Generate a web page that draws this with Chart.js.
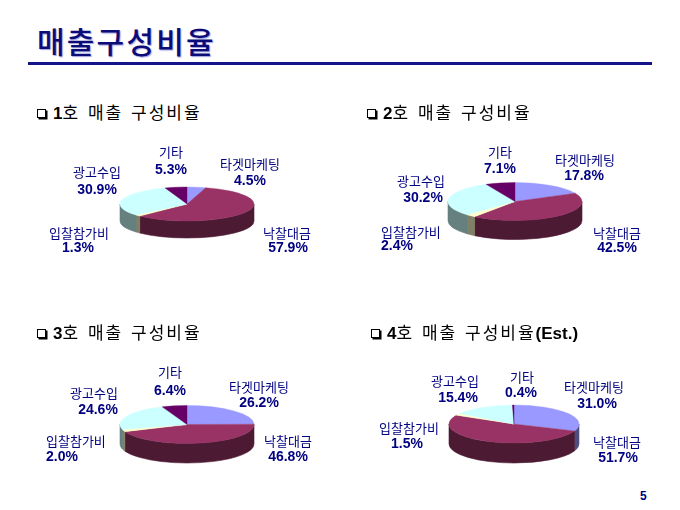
<!DOCTYPE html>
<html><head><meta charset="utf-8">
<script src="https://cdn.jsdelivr.net/npm/chart.js@4/dist/chart.umd.min.js"></script>
<style>
html,body{margin:0;padding:0;background:#fff;}
#page{position:relative;width:680px;height:510px;overflow:hidden;background:#fff;}
#page canvas{position:absolute;left:0;top:0;}
.title{position:absolute;left:37px;top:20px;font:500 30px "Noto Sans CJK KR";letter-spacing:2.2px;color:#0c0c78;text-shadow:1px 1px 1px rgba(120,120,210,0.7);white-space:nowrap;line-height:40px;}
.rule{position:absolute;left:28px;top:62px;width:624px;height:3px;background:#14148a;}
.sub{position:absolute;font:400 17px "Noto Sans CJK KR";color:#000;white-space:pre;letter-spacing:2px;word-spacing:2px;line-height:20px;}
.sub b{font:700 17px "Liberation Sans",Arial;letter-spacing:0;}
.box{display:inline-block;width:7px;height:7px;border:1px solid #000;box-shadow:1.5px 1.5px 0 #000;margin-right:7px;vertical-align:1px;}
.pg{position:absolute;left:640px;top:489px;font:700 12px "Liberation Sans",Arial;color:#000080;}
</style></head>
<body><div id="page">
<div class="title">매출구성비율</div>
<div class="rule"></div>
<div class="pg">5</div>
</div>
<script>
// ---- data ----
const CATEGORIES = ['타겟마케팅', '낙찰대금', '입찰참가비', '광고수입', '기타'];
const SHARE_1 = [4.5, 57.9, 1.3, 30.9, 5.3];
const SHARE_2 = [17.8, 42.5, 2.4, 30.2, 7.1];
const SHARE_3 = [26.2, 46.8, 2.0, 24.6, 6.4];
const SHARE_4 = [31.0, 51.7, 1.5, 15.4, 0.4];
const CHART_NUMBERS = ['1', '2', '3', '4'];
const CHART_TITLES = ['호 매출 구성비율', '호 매출 구성비율', '호 매출 구성비율', '호 매출 구성비율'];
const CHART_SUFFIX = ['', '', '', '(Est.)'];
const SERIES = [SHARE_1, SHARE_2, SHARE_3, SHARE_4];

// ---- style / layout ----
const COLORS = ['#9999FF', '#993366', '#FFFFCC', '#CCFFFF', '#660066'];
const W = 680, H = 510;
const LAYOUT = [
  {cx:187, cy:204, rx:67, ry:17, depth:17, sub:[37,102],
   lab:[[250,164,250,181,'center'],[287,233,288,248,'center'],[79,233,78,248,'center'],[97,172,97,190,'center'],[171,152,171,170,'center']]},
  {cx:515, cy:201.5, rx:67, ry:19, depth:19, sub:[367,102],
   lab:[[585,160,584,176,'center'],[617,233,617,248,'center'],[381,232,381,246,'left'],[421,181,423,198,'center'],[500,152,500,169,'center']]},
  {cx:187, cy:424.5, rx:67, ry:19, depth:19.5, sub:[37,322],
   lab:[[259,387,259,403,'center'],[288,441,288,457,'center'],[46,441,46,457,'left'],[94,393,98,410,'center'],[170,372,170,391,'center']]},
  {cx:514, cy:424, rx:65, ry:19, depth:20, sub:[371,322],
   lab:[[594,387,597,404,'center'],[617,442,618,458,'center'],[409,428,407,444,'center'],[455,381,458,398,'center'],[522,377,521,393,'center']]}
];

function shade(hex, f){
  const n = parseInt(hex.slice(1),16);
  const r = Math.round(((n>>16)&255)*f), g = Math.round(((n>>8)&255)*f), b = Math.round((n&255)*f);
  return 'rgb('+r+','+g+','+b+')';
}

const pie3d = {
  id:'pie3d',
  beforeDatasetsDraw(chart, args, opts){
    const meta = chart.getDatasetMeta(0);
    const ctx = chart.ctx;
    const a = meta.data[0];
    const cx = a.x, cy = a.y, rx = a.outerRadius, ry = opts.ry, d = opts.depth;
    meta.data.forEach((arc, i) => {
      const a0 = Math.max(arc.startAngle, 0), a1 = Math.min(arc.endAngle, Math.PI);
      if (a1 <= a0) return;
      ctx.beginPath();
      ctx.ellipse(cx, cy, rx, ry, 0, a0, a1, false);
      ctx.ellipse(cx, cy + d, rx, ry, 0, a1, a0, true);
      ctx.closePath();
      const c = shade(COLORS[i], 0.5);
      ctx.fillStyle = c; ctx.strokeStyle = c; ctx.lineWidth = 0.6;
      ctx.fill(); ctx.stroke();
    });
    ctx.save();
    ctx.translate(cx, cy); ctx.scale(1, ry / rx); ctx.translate(-cx, -cy);
  },
  afterDatasetsDraw(chart){ chart.ctx.restore(); }
};

const pieLabels = {
  id:'pieLabels',
  afterDraw(chart, args, opts){
    const ctx = chart.ctx;
    const data = chart.data.datasets[0].data;
    ctx.save();
    ctx.fillStyle = '#000080';
    ctx.textBaseline = 'middle';
    opts.pos.forEach((p, i) => {
      ctx.textAlign = p[4];
      ctx.font = '400 13px "Noto Sans CJK KR"';
      ctx.fillText(chart.data.labels[i], p[0], p[1]);
      ctx.font = '700 14px "Liberation Sans", Arial';
      ctx.fillText(data[i].toFixed(1) + '%', p[2], p[3]);
    });
    ctx.restore();
  }
};

const page = document.getElementById('page');
SERIES.forEach((vals, k) => {
  const L = LAYOUT[k];
  const sub = document.createElement('div');
  sub.className = 'sub';
  sub.style.left = L.sub[0] + 'px'; sub.style.top = L.sub[1] + 'px';
  sub.innerHTML = '<span class="box"></span><b>' + CHART_NUMBERS[k] + '</b>' + CHART_TITLES[k] +
    (CHART_SUFFIX[k] ? '<b>' + CHART_SUFFIX[k] + '</b>' : '');
  page.appendChild(sub);

  const cv = document.createElement('canvas');
  cv.width = W; cv.height = H;
  cv.style.width = W + 'px'; cv.style.height = H + 'px';
  page.appendChild(cv);
  new Chart(cv, {
    type: 'pie',
    data: {
      labels: CATEGORIES,
      datasets: [{
        data: vals,
        backgroundColor: COLORS,
        borderColor: COLORS,
        borderWidth: 0.6,
        radius: L.rx,
        clip: false
      }]
    },
    options: {
      responsive: false,
      animation: false,
      events: [],
      layout: { padding: { left: L.cx - 10, right: W - L.cx - 10, top: L.cy - 10, bottom: H - L.cy - 10 } },
      plugins: {
        legend: { display: false },
        tooltip: { enabled: false },
        title: { display: false },
        pie3d: { ry: L.ry, depth: L.depth },
        pieLabels: { pos: L.lab }
      }
    },
    plugins: [pie3d, pieLabels]
  });
});
</script>
</body></html>
